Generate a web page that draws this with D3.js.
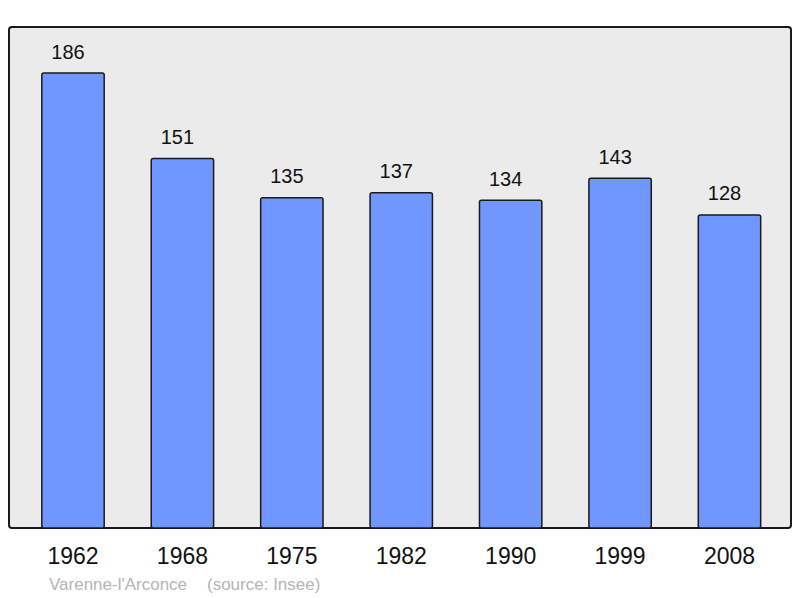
<!DOCTYPE html>
<html>
<head>
<meta charset="utf-8">
<script src="https://cdn.jsdelivr.net/npm/d3@7"></script>
<style>
  body { margin: 0; background: #fff; }
  text { font-family: "Liberation Sans", Arial, sans-serif; }
</style>
</head>
<body>
<svg width="800" height="598"></svg>
<script>
const years = ["1962", "1968", "1975", "1982", "1990", "1999", "2008"];
const population = [186, 151, 135, 137, 134, 143, 128];
const commune = "Varenne-l'Arconce";
const source = "(source: Insee)";

const svg = d3.select("svg");

const panel = {left: 9, top: 27, right: 791, bottom: 528};

// grey panel
svg.append("rect")
  .attr("x", panel.left)
  .attr("y", panel.top)
  .attr("width", panel.right - panel.left)
  .attr("height", panel.bottom - panel.top)
  .attr("rx", 3)
  .attr("fill", "#ebebeb")
  .attr("stroke", "#1a1a1a")
  .attr("stroke-width", 2);

const x = d3.scaleBand()
  .domain(years)
  .range([18.3, 784.2])
  .paddingInner(0.43)
  .paddingOuter(0.215);

const y = d3.scaleLinear()
  .domain([0, 186])
  .range([panel.bottom, 73]);

const data = years.map((yr, i) => ({year: yr, value: population[i]}));

svg.selectAll(".bar")
  .data(data)
  .enter().append("rect")
  .attr("class", "bar")
  .attr("x", d => x(d.year))
  .attr("y", d => y(d.value))
  .attr("width", x.bandwidth())
  .attr("height", d => panel.bottom - y(d.value))
  .attr("rx", 2)
  .attr("fill", "#7097ff")
  .attr("stroke", "#1a1a1a")
  .attr("stroke-width", 1.5);

// value labels (sit a little left of the bar centre, as in the original)
svg.selectAll(".val")
  .data(data)
  .enter().append("text")
  .attr("class", "val")
  .attr("x", d => x(d.year) + x.bandwidth() / 2 - 5)
  .attr("y", d => y(d.value) - 14.5)
  .attr("text-anchor", "middle")
  .style("font-size", "20px")
  .attr("fill", "#111")
  .text(d => d.value);

// x axis labels
const xAxis = svg.append("g")
  .attr("transform", `translate(0,${panel.bottom})`)
  .call(d3.axisBottom(x).tickSize(0).tickPadding(20));
xAxis.select(".domain").remove();
xAxis.selectAll("text")
  .style("font-size", "23px")
  .style("font-family", "'Liberation Sans', Arial, sans-serif")
  .attr("fill", "#111");

// footer
svg.append("text")
  .attr("x", 49)
  .attr("y", 590)
  .style("font-size", "17px")
  .attr("fill", "#b5b5b5")
  .text(commune);

svg.append("text")
  .attr("x", 207)
  .attr("y", 590)
  .style("font-size", "17px")
  .attr("fill", "#b5b5b5")
  .text(source);
</script>
</body>
</html>
